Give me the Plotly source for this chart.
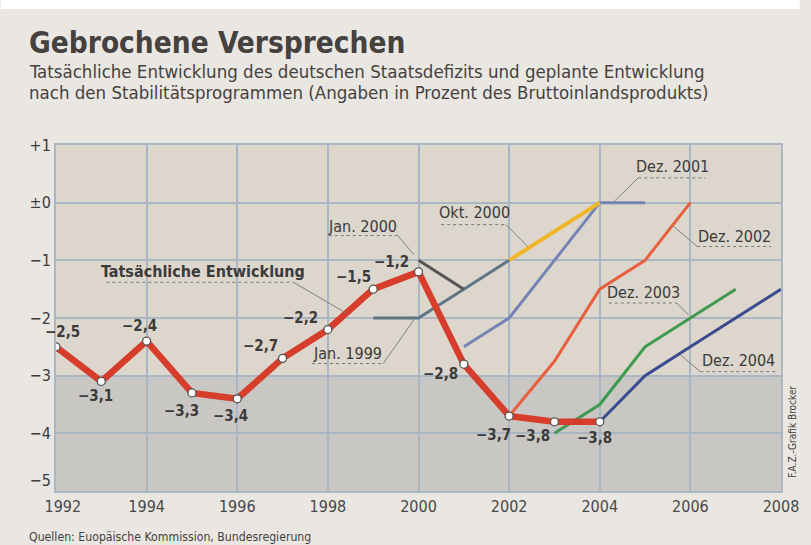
import plotly.graph_objects as go

# ---------------- data ----------------
years_actual = [1992, 1993, 1994, 1995, 1996, 1997, 1998, 1999, 2000, 2001, 2002, 2003, 2004]
deficit_actual = [-2.5, -3.1, -2.4, -3.3, -3.4, -2.7, -2.2, -1.5, -1.2, -2.8, -3.7, -3.8, -3.8]

jan1999_years = [1999, 2000, 2001, 2002]
jan1999_vals = [-2.0, -2.0, -1.5, -1.0]

jan2000_years = [2000, 2001]
jan2000_vals = [-1.0, -1.5]

okt2000_years = [2002, 2003, 2004]
okt2000_vals = [-1.0, -0.5, 0.0]

dez2001_years = [2001, 2002, 2003, 2004, 2005]
dez2001_vals = [-2.5, -2.0, -1.0, 0.0, 0.0]

dez2002_years = [2002, 2003, 2004, 2005, 2006]
dez2002_vals = [-3.7, -2.75, -1.5, -1.0, 0.0]

dez2003_years = [2003, 2004, 2005, 2006, 2007]
dez2003_vals = [-4.0, -3.5, -2.5, -2.0, -1.5]

dez2004_years = [2004, 2005, 2006, 2007, 2008]
dez2004_vals = [-3.8, -3.0, -2.5, -2.0, -1.5]

x_ticks = [1992, 1994, 1996, 1998, 2000, 2002, 2004, 2006, 2008]
x_ticktext = ["\u00a0\u00a0\u00a01992", "1994", "1996", "1998", "2000", "2002", "2004", "2006", "2008"]
y_ticks = [1, 0, -1, -2, -3, -4, -5]
y_ticktext = ["+1", "±0", "−1", "−2", "−3", "−4", "−5<br>\u00a0"]

# ---------------- styling ----------------
W, H = 811, 545
ML, MR, MT, MB = 56, 19, 145, 54
FONT = "DejaVu Sans Condensed, Liberation Sans Narrow, sans-serif"
TXT = "#3b3b3b"
HEAD = "#45413e"
GRID = "#aab7c2"
PAGE = "#eae7e2"
UPPER = "#dcd6cc"
LOWER = "#c9c7c4"


def px(xp, yp):
    """pixel position -> paper coordinates"""
    return (xp - ML) / (W - ML - MR), (H - MB - yp) / (H - MT - MB)


def fmt(v):
    s = f"{abs(v):.1f}".replace(".", ",")
    return ("−" if v < 0 else "") + s


fig = go.Figure()

proj = [
    (jan1999_years, jan1999_vals, "#5d7585", 3),
    (jan2000_years, jan2000_vals, "#555555", 3),
    (dez2001_years, dez2001_vals, "#7584b4", 3),
    (okt2000_years, okt2000_vals, "#f0b528", 4),
    (dez2002_years, dez2002_vals, "#e8603e", 3),
    (dez2003_years, dez2003_vals, "#3f9a4f", 3),
    (dez2004_years, dez2004_vals, "#3a4a8e", 3),
]
for xs, ys, col, w in proj:
    fig.add_trace(go.Scatter(x=xs, y=ys, mode="lines",
                             line=dict(color=col, width=w), hoverinfo="skip"))

fig.add_trace(go.Scatter(
    x=years_actual, y=deficit_actual, mode="lines+markers",
    line=dict(color="#d73d2b", width=6.5),
    marker=dict(size=8, color="white", line=dict(color="#555555", width=1.3)),
    hoverinfo="skip"))

# value labels (offsets in px)
offsets = [(6, 15), (-6, -15), (-7, 15), (-10, -18), (-7, -17), (-22, 12), (-27, 12),
           (-20, 12), (-27, 10), (-23, -10), (-16, -19), (-22, -14), (-5, -16)]
annotations = []
for xv, yv, (dx, dy) in zip(years_actual, deficit_actual, offsets):
    annotations.append(dict(x=xv, y=yv, xref="x", yref="y", text=f"<b>{fmt(yv)}</b>",
                            showarrow=False, xshift=dx, yshift=dy,
                            font=dict(family=FONT, size=15, color=TXT)))

# series labels (centre positions in data coords)
labels = [
    ("<b>Tatsächliche Entwicklung</b>", 1995.24, -1.19),
    ("Jan. 2000", 1998.76, -0.41),
    ("Jan. 1999", 1998.43, -2.62),
    ("Okt. 2000", 2001.24, -0.17),
    ("Dez. 2001", 2005.61, 0.62),
    ("Dez. 2002", 2006.98, -0.59),
    ("Dez. 2003", 2004.96, -1.55),
    ("Dez. 2004", 2007.07, -2.74),
]
for t, xv, yv in labels:
    annotations.append(dict(x=xv, y=yv, xref="x", yref="y", text=t, showarrow=False,
                            font=dict(family=FONT, size=16, color=TXT)))

# leader lines: (underline x0, x1, y), (diag from, to)
leaders = [
    ((1993.11, 1997.24, -1.38), (1997.24, -1.38, 1998.39, -1.91)),
    ((1998.02, 1999.54, -0.57), (1999.54, -0.57, 1999.91, -0.91)),
    ((1997.65, 1999.22, -2.79), (1999.22, -2.79, 1999.91, -2.02)),
    ((2000.50, 2001.93, -0.38), (2001.93, -0.38, 2002.41, -0.76)),
    ((2004.85, 2006.33, 0.43), (2004.85, 0.43, 2004.33, 0.03)),
    ((2006.15, 2007.78, -0.76), (2006.15, -0.76, 2005.63, -0.41)),
    ((2004.20, 2005.70, -1.74), (2005.70, -1.74, 2005.96, -1.95)),
    ((2006.22, 2007.89, -2.93), (2006.22, -2.93, 2005.78, -2.64)),
]
shapes = [
    dict(type="rect", xref="x domain", yref="y", x0=0, x1=1, y0=-3, y1=1,
         fillcolor=UPPER, line_width=0, layer="below"),
    dict(type="rect", xref="x domain", yref="y", x0=0, x1=1, y0=-5, y1=-3,
         fillcolor=LOWER, line_width=0, layer="below"),
    dict(type="rect", xref="paper", yref="paper", x0=px(0, 0)[0], x1=px(W, 0)[0],
         y0=px(0, 9)[1], y1=px(0, 0)[1], fillcolor="white", line_width=0, layer="below"),
]
for (ux0, ux1, uy), (dx0, dy0, dx1, dy1) in leaders:
    shapes.append(dict(type="line", xref="x", yref="y", x0=ux0, x1=ux1, y0=uy, y1=uy,
                       line=dict(color="#777777", width=1, dash="dot"), layer="above"))
    shapes.append(dict(type="line", xref="x", yref="y", x0=dx0, y0=dy0, x1=dx1, y1=dy1,
                       line=dict(color="#808080", width=1), layer="above"))

# titles and credits
tx, ty = px(27, 43)
annotations.append(dict(x=tx, y=ty, xref="paper", yref="paper", xanchor="left", yanchor="middle",
                        text="<b>Gebrochene Versprechen</b>", showarrow=False,
                        font=dict(family=FONT, size=29.5, color=HEAD)))
for line, yp in [("Tatsächliche Entwicklung des deutschen Staatsdefizits und geplante Entwicklung", 72),
                 ("nach den Stabilitätsprogrammen (Angaben in Prozent des Bruttoinlandsprodukts)", 93)]:
    sx, sy = px(27, yp)
    annotations.append(dict(x=sx, y=sy, xref="paper", yref="paper", xanchor="left", yanchor="middle",
                            text=line, showarrow=False,
                            font=dict(family=FONT, size=18.5, color=HEAD)))
qx, qy = px(27, 537)
annotations.append(dict(x=qx, y=qy, xref="paper", yref="paper", xanchor="left", yanchor="middle",
                        text="Quellen: Euopäische Kommission, Bundesregierung", showarrow=False,
                        font=dict(family=FONT, size=12.2, color=HEAD)))
fx, fy = px(803, 432)
annotations.append(dict(x=fx, y=fy, xref="paper", yref="paper", xanchor="center", yanchor="middle",
                        text="F.A.Z.-Grafik Brocker", textangle=-90, showarrow=False,
                        font=dict(family=FONT, size=10, color=HEAD)))

fig.update_layout(
    width=W, height=H,
    margin=dict(l=ML, r=MR, t=MT, b=MB),
    paper_bgcolor=PAGE, plot_bgcolor=UPPER,
    showlegend=False,
    shapes=shapes, annotations=annotations,
    font=dict(family=FONT, color=TXT),
)
fig.update_xaxes(range=[1992, 2008], tickvals=x_ticks, ticktext=x_ticktext,
                 showgrid=True, gridcolor=GRID, gridwidth=2, zeroline=False,
                 showline=True, linecolor=GRID, linewidth=2, mirror=True,
                 ticks="", tickfont=dict(family=FONT, size=16, color="#474747"))
fig.update_yaxes(range=[-5, 1], tickvals=y_ticks, ticktext=y_ticktext,
                 showgrid=True, gridcolor=GRID, gridwidth=2, zeroline=False,
                 showline=True, linecolor=GRID, linewidth=2, mirror=True,
                 ticks="", tickfont=dict(family=FONT, size=16, color="#3b3b3b"))

fig.write_html("out.html", config={"displayModeBar": False},
               post_script="document.body.style.margin='0';")
